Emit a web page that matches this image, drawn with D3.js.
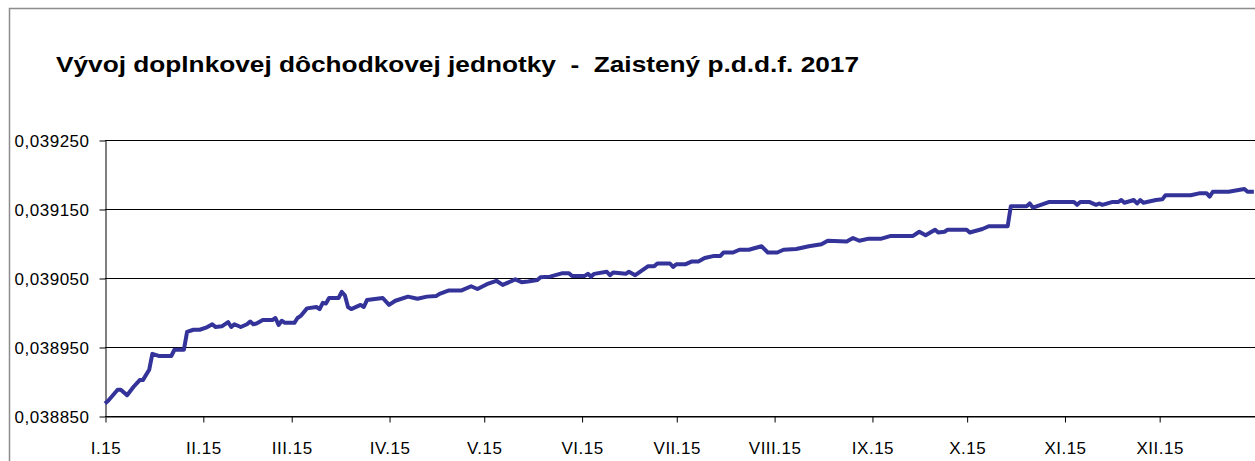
<!DOCTYPE html>
<html>
<head>
<meta charset="utf-8">
<script src="https://cdn.jsdelivr.net/npm/d3@7/dist/d3.min.js"></script>
<style>
  html, body { margin: 0; padding: 0; background: #ffffff; }
  svg { display: block; }
  text { font-family: "Liberation Sans", Arial, sans-serif; }
</style>
</head>
<body>
<svg id="chart" width="1255" height="461"></svg>
<script>
// ---- Data ----
const chartTitle = "Vývoj doplnkovej dôchodkovej jednotky  -  Zaistený p.d.d.f. 2017";

// day offset from 1 Jan 2015
const dayOfYear = [
  0, 1, 4, 5, 7, 9, 11, 12, 14, 15, 17, 21, 22, 25, 26, 28, 30, 32, 34, 35,
  37, 39, 40, 41, 43, 45, 46, 47, 48, 50, 53, 54, 55, 56, 57, 60, 61, 62, 64, 67,
  68, 69, 70, 71, 74, 75, 76, 77, 78, 81, 82, 83, 88, 90, 92, 96, 99, 102, 105, 106,
  109, 113, 116, 118, 121, 124, 126, 130, 132, 134, 137, 138, 141, 145, 147, 148, 152, 153, 154, 155,
  159, 160, 161, 165, 166, 168, 172, 174, 175, 179, 180, 181, 184, 186, 188, 190, 193, 195, 196, 199,
  201, 204, 208, 210, 213, 215, 219, 223, 227, 229, 235, 237, 239, 242, 246, 249, 256, 258, 260, 263,
  264, 266, 267, 273, 274, 278, 280, 286, 287, 292, 293, 294, 299, 307, 308, 309, 312, 314, 315, 316,
  319, 321, 322, 323, 326, 327, 328, 329, 333, 335, 336, 344, 347, 349, 350, 351, 356, 361, 362, 364
];

const unitValue = [
  0.038868, 0.038872, 0.038888, 0.038888, 0.038880, 0.038892, 0.038902, 0.038902, 0.038917, 0.038940,
  0.038937, 0.038937, 0.038946, 0.038946, 0.038972, 0.038975, 0.038975, 0.038978, 0.038983, 0.038979,
  0.038980, 0.038986, 0.038979, 0.038983, 0.038979, 0.038983, 0.038987, 0.038983, 0.038984, 0.038989,
  0.038989, 0.038992, 0.038982, 0.038988, 0.038985, 0.038985, 0.038992, 0.038995, 0.039006, 0.039008,
  0.039005, 0.039014, 0.039013, 0.039021, 0.039021, 0.039030, 0.039025, 0.039008, 0.039005, 0.039011,
  0.039008, 0.039018, 0.039021, 0.039011, 0.039017, 0.039023, 0.039020, 0.039023, 0.039024, 0.039027,
  0.039032, 0.039032, 0.039038, 0.039034, 0.039041, 0.039046, 0.039040, 0.039048, 0.039044, 0.039045,
  0.039047, 0.039051, 0.039052, 0.039057, 0.039057, 0.039053, 0.039053, 0.039056, 0.039052, 0.039056,
  0.039059, 0.039054, 0.039058, 0.039056, 0.039059, 0.039054, 0.039067, 0.039067, 0.039071, 0.039071,
  0.039066, 0.039070, 0.039070, 0.039074, 0.039074, 0.039079, 0.039082, 0.039082, 0.039087, 0.039087,
  0.039091, 0.039091, 0.039096, 0.039087, 0.039087, 0.039091, 0.039092, 0.039096, 0.039099, 0.039104,
  0.039103, 0.039108, 0.039104, 0.039107, 0.039107, 0.039111, 0.039111, 0.039117, 0.039112, 0.039120,
  0.039116, 0.039117, 0.039120, 0.039120, 0.039116, 0.039121, 0.039125, 0.039125, 0.039154, 0.039154,
  0.039158, 0.039152, 0.039160, 0.039160, 0.039156, 0.039160, 0.039160, 0.039156, 0.039158, 0.039156,
  0.039160, 0.039160, 0.039163, 0.039159, 0.039163, 0.039158, 0.039163, 0.039159, 0.039163, 0.039164,
  0.039170, 0.039170, 0.039173, 0.039173, 0.039168, 0.039175, 0.039175, 0.039179, 0.039175, 0.039175
];

const yTickValues = [0.038850, 0.038950, 0.039050, 0.039150, 0.039250];
const monthLabels = ["I.15", "II.15", "III.15", "IV.15", "V.15", "VI.15",
                     "VII.15", "VIII.15", "IX.15", "X.15", "XI.15", "XII.15"];

// ---- Build ----
const yearStart = new Date(2015, 0, 1);
const data = dayOfYear.map((d, i) => ({ date: d3.timeDay.offset(yearStart, d), v: unitValue[i] }));
const monthTicks = monthLabels.map((_, i) => new Date(2015, i, 1));

const svg = d3.select("#chart");
svg.append("rect").attr("x", 0).attr("y", 0).attr("width", 1255).attr("height", 461).attr("fill", "#fff");

// outer chart border (cropped)
svg.append("rect")
  .attr("x", 9.5).attr("y", 8.5).attr("width", 1400).attr("height", 600)
  .attr("fill", "none").attr("stroke", "#8c8c8c").attr("stroke-width", 1.5);

const plotL = 105, plotR = 1257, plotT = 140, plotB = 416;
const x = d3.scaleTime().domain([yearStart, new Date(2016, 0, 1)]).range([plotL, plotR]);
const y = d3.scaleLinear().domain([0.03885, 0.03925]).range([plotB, plotT]);

const locale = d3.formatLocale({ decimal: ",", thousands: " ", grouping: [3], currency: ["", ""] });
const yFmt = locale.format(".6f");

// gridlines
svg.append("g").selectAll("line").data(yTickValues).join("line")
  .attr("x1", plotL).attr("x2", plotR)
  .attr("y1", d => Math.round(y(d)) + 0.5).attr("y2", d => Math.round(y(d)) + 0.5)
  .attr("stroke", "#000").attr("stroke-width", 1);

// y axis
const yAxis = svg.append("g").attr("transform", `translate(${plotL + 0.5},0.5)`)
  .call(d3.axisLeft(y).tickValues(yTickValues).tickFormat(yFmt).tickSize(6).tickSizeOuter(0).tickPadding(10));
yAxis.selectAll("path, line").attr("stroke", "#000");
yAxis.selectAll("text").attr("font-size", "17px").attr("letter-spacing", "0.5px")
  .attr("fill", "#000").attr("dy", "0.38em")
  .style("font-family", '"Liberation Sans", Arial, sans-serif');

// x axis
const xAxis = svg.append("g").attr("transform", `translate(0.5,${plotB + 0.5})`)
  .call(d3.axisBottom(x).tickValues(monthTicks).tickFormat((d, i) => monthLabels[i]).tickSize(6).tickSizeOuter(0).tickPadding(19));
xAxis.selectAll("path, line").attr("stroke", "#000");
xAxis.selectAll("text").attr("font-size", "17px").attr("letter-spacing", "0.5px")
  .attr("fill", "#000")
  .style("font-family", '"Liberation Sans", Arial, sans-serif');

// series line
svg.append("path").datum(data)
  .attr("d", d3.line().x(d => x(d.date)).y(d => y(d.v)))
  .attr("fill", "none").attr("stroke", "#333399").attr("stroke-width", 4)
  .attr("stroke-linejoin", "round").attr("stroke-linecap", "butt");

// title
svg.append("text")
  .attr("x", 56).attr("y", 72)
  .attr("font-size", "22px").attr("font-weight", "bold").attr("fill", "#000")
  .attr("textLength", 803).attr("lengthAdjust", "spacingAndGlyphs")
  .style("white-space", "pre")
  .text(chartTitle);
</script>
</body>
</html>
